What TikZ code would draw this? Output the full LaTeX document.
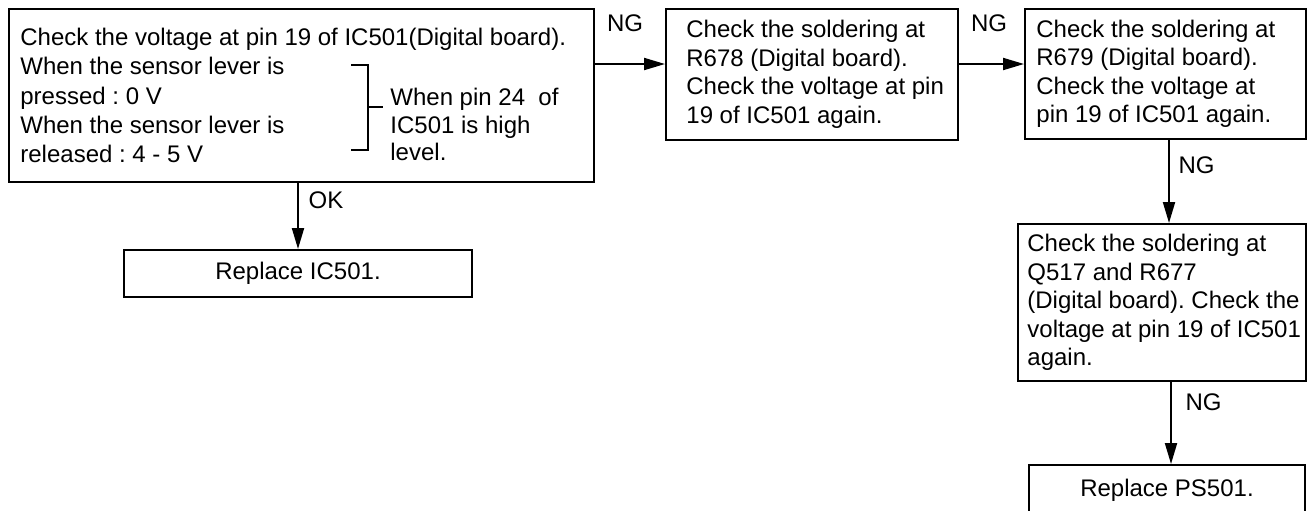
\documentclass[tikz,border=0pt]{standalone}
\usepackage{fontspec}
\setmainfont{Liberation Sans}
\usetikzlibrary{arrows.meta}
\frenchspacing
\begin{document}
\begin{tikzpicture}[x=0.5pt, y=-0.5pt,
  box/.style={draw, line width=1pt, anchor=north west, inner sep=0pt,
    font=\fontsize{12}{14.25}\selectfont},
  txt/.style={align=left, anchor=west, inner sep=0pt, font=\fontsize{12}{14.25}\selectfont},
  flow/.style={line width=1pt, -{Triangle[length=10.5pt,width=6pt]}},
  lbl/.style={inner sep=0pt, font=\fontsize{12}{14.25}\selectfont}]
\useasboundingbox (0,0) rectangle (1309,510);
% boxes
\node[box, minimum width=292.5pt, minimum height=86.5pt] (chk) at (8,8) {};
\node[txt, font=\fontsize{12}{14.6}\selectfont] (chkt) at ([xshift=6pt]chk.west)
  {Check the voltage at pin 19 of IC501(Digital board).\\
   When the sensor lever is\\ pressed : 0 V\\
   When the sensor lever is\\ released : 4 - 5 V};
\node[txt, font=\fontsize{12}{13.75}\selectfont] (lvl) at (390,124.5)
  {When pin 24\ \ of\\ IC501 is high\\ level.};
\node[box, minimum width=146pt, minimum height=65.5pt] (r678) at (665,8) {};
\node[txt] (r678t) at ([xshift=10.5pt]r678.west)
  {Check the soldering at\\ R678 (Digital board).\\ Check the voltage at pin\\ 19 of IC501 again.};
\node[box, minimum width=140.5pt, minimum height=65pt] (r679) at (1024,8) {};
\node[txt] (r679t) at ([xshift=6pt]r679.west)
  {Check the soldering at\\ R679 (Digital board).\\ Check the voltage at\\ pin 19 of IC501 again.};
\node[box, minimum width=144pt, minimum height=78.5pt] (q517) at (1017,223) {};
\node[txt] (q517t) at ([xshift=5pt]q517.west)
  {Check the soldering at\\ Q517 and R677\\ (Digital board). Check the\\ voltage at pin 19 of IC501\\ again.};
\node[box, minimum width=174pt, minimum height=23.5pt] (ic501) at (123,249) {Replace IC501.};
\node[box, minimum width=138pt, minimum height=25pt] (ps501) at (1028,464) {Replace PS501.};
% bracket
\draw[line width=1pt] (351,65) -- (368,65) -- (368,150) -- (351,150);
\draw[line width=0.8pt] (368,107) -- (383,107);
% connectors
\coordinate (r678in) at ([yshift=5.25pt]r678.west);
\coordinate (r679in) at ([yshift=5pt]r679.west);
\coordinate (r679out) at ([xshift=1.75pt]r679.south);
\coordinate (q517out) at ([xshift=4.5pt]q517.south);
\draw[flow] (chk.east |- r678in) -- (r678in);
\draw[flow] (r678.east |- r679in) -- (r679in);
\draw[flow] (r679out) -- (r679out |- q517.north);
\draw[flow] (q517out) -- (q517out |- ps501.north);
\draw[flow] (ic501.north |- chk.south) -- (ic501.north);
% labels
\node[lbl] (ng1) at (625,23) {NG};
\node[lbl] (ng2) at (989,23) {NG};
\node[lbl] (ng3) at (1196.5,165) {NG};
\node[lbl] (ng4) at (1203.5,402) {NG};
\node[lbl] (ok) at (326,200) {OK};
\end{tikzpicture}
\end{document}
